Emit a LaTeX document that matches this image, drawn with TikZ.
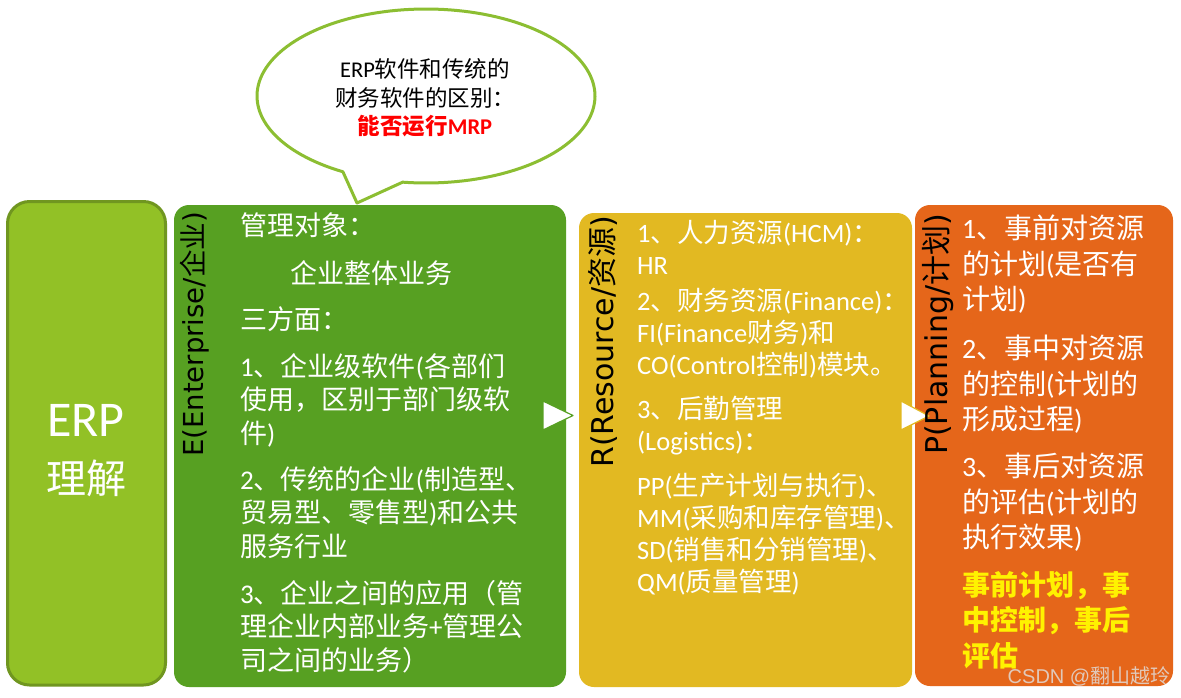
\documentclass[tikz,border=0pt]{standalone}
\usepackage{fontspec}
\setmainfont{Carlito}
\newfontfamily\cjkf{Noto Sans CJK SC}[NFSSFamily=cjk]
\newfontfamily\latf{Carlito}[NFSSFamily=lat]
\newfontfamily\dvsf{DejaVu Sans}[NFSSFamily=dvs]
\newfontfamily\lsf{Liberation Sans}[NFSSFamily=lsans]
\def\latname{lat}
\newcommand\toCJK{\fontfamily{cjk}\selectfont}
\newcommand\toLAT{\fontfamily{\latname}\selectfont}
\XeTeXinterchartokenstate=1
\newXeTeXintercharclass\CJKcls
\newcount\mycc
\def\setcls#1#2{\mycc=#1\relax\loop\XeTeXcharclass\mycc=\CJKcls\relax\ifnum\mycc<#2\relax\advance\mycc by 1\relax\repeat}
\setcls{"3000}{"303F}
\setcls{"4E00}{"9FFF}
\setcls{"FF00}{"FFEF}
\XeTeXinterchartoks 0 \CJKcls = {\toCJK}
\XeTeXinterchartoks 4095 \CJKcls = {\toCJK}
\XeTeXinterchartoks \CJKcls 0 = {\toLAT}
\XeTeXinterchartoks 4095 0 = {\toLAT}

\definecolor{erpfill}{RGB}{146,193,38}
\definecolor{erpborder}{RGB}{112,150,32}
\definecolor{egreen}{RGB}{87,160,34}
\definecolor{ryellow}{RGB}{226,185,34}
\definecolor{porange}{RGB}{229,102,26}
\definecolor{bubble}{RGB}{140,190,50}
\definecolor{wmcol}{RGB}{225,200,185}

\tikzset{
  etext/.style={anchor=north west, inner sep=0pt, text=white, align=left, font=\fontsize{27}{33.5}\selectfont},
  rtext/.style={anchor=north west, inner sep=0pt, text=white, align=left, font=\fontsize{26.5}{32}\selectfont},
  ptext/.style={anchor=north west, inner sep=0pt, text=white, align=left, font=\fontsize{28}{35.5}\selectfont},
  vlabel/.style={anchor=base west, rotate=90, inner sep=0pt, text=black},
  arrowtri/.style={fill=white, line width=1.2pt, line join=round}
}

\begin{document}
\begin{tikzpicture}[x=1pt,y=-1pt]
\useasboundingbox (0,0) rectangle (1181,697);
\fill[white] (0,0) rectangle (1181,697);

% boxes
\draw[line width=3pt, draw=erpborder, fill=erpfill, rounded corners=22pt] (7.5,201.5) rectangle (165.5,685);
\fill[egreen, rounded corners=15pt] (174,205) rectangle (566,687);
\fill[ryellow, rounded corners=15pt] (579,213) rectangle (912,687);
\fill[porange, rounded corners=15pt] (915,205) rectangle (1173,686);

% triangles
\filldraw[arrowtri, draw=egreen] (543,401) -- (573,415.5) -- (543,430) -- cycle;
\filldraw[arrowtri, draw=ryellow] (901,401) -- (929,416) -- (901,430) -- cycle;

% speech bubble
\filldraw[fill=white, draw=bubble, line width=3pt, line join=round]
  (343,172) -- (357,203) -- (403,182) --
  plot[domain=97.8:-240.6, samples=150, variable=\t] ({426+169*cos(\t)},{96+87*sin(\t)}) -- cycle;
\node[align=center, inner sep=0pt, text=black, font=\fontsize{22.5}{28.5}\selectfont] (bub) at (425,98)
  {ERP软件和传统的\\财务软件的区别：\\{\color{red}\bfseries 能否运行MRP}};

% left box
\node[text=white, inner sep=0pt, font=\fontsize{50}{50}\selectfont] (erp) at (86,420) {ERP};
\node[text=white, inner sep=0pt, font=\fontsize{40}{40}\selectfont] (lj) at (86,478) {理解};

% E box
\node[vlabel, font={\def\latname{dvs}\fontsize{27.5}{30}\selectfont}] (elab) at (203,457) {E(Enterprise/企业)};
\node[etext] (e1) at (240,213) {管理对象：};
\node[etext] (e2) at (290,260) {企业整体业务};
\node[etext] (e3) at (240,306) {三方面：};
\node[etext] (e4) at (240,353) {1、企业级软件(各部们\\使用，区别于部门级软\\件)};
\node[etext] (e5) at (240,466) {2、传统的企业(制造型、\\贸易型、零售型)和公共\\服务行业};
\node[etext] (e6) at (240,580) {3、企业之间的应用（管\\理企业内部业务+管理公\\司之间的业务）};

% R box
\node[vlabel, font={\def\latname{dvs}\fontsize{30}{32}\selectfont}] (rlab) at (613,468) {R(Resource/资源)};
\node[rtext] (r1) at (637,220) {1、人力资源(HCM)：\\HR};
\node[rtext] (r2) at (637,288) {2、财务资源(Finance)：\\FI(Finance财务)和\\CO(Control控制)模块。};
\node[rtext] (r3) at (637,396) {3、后勤管理\\(Logistics)：};
\node[rtext] (r4) at (637,473) {PP(生产计划与执行)、\\MM(采购和库存管理)、\\SD(销售和分销管理)、\\QM(质量管理)};

% P box
\node[vlabel, font={\def\latname{dvs}\fontsize{30}{32}\selectfont}] (plab) at (947,455) {P(Planning/计划)};
\node[ptext] (p1) at (962,215) {1、事前对资源\\的计划(是否有\\计划)};
\node[ptext] (p2) at (962,335) {2、事中对资源\\的控制(计划的\\形成过程)};
\node[ptext] (p3) at (962,453) {3、事后对资源\\的评估(计划的\\执行效果)};
\node[ptext, text=yellow, font=\bfseries\fontsize{28}{35.5}\selectfont] (p4) at (962,571) {事前计划，事\\中控制，事后\\评估};

% watermark
\node[inner sep=0pt, text=wmcol, font={\def\latname{lsans}\fontsize{20}{20}\selectfont}] (wm) at (1089,676) {CSDN @翻山越玲};
\end{tikzpicture}
\end{document}
